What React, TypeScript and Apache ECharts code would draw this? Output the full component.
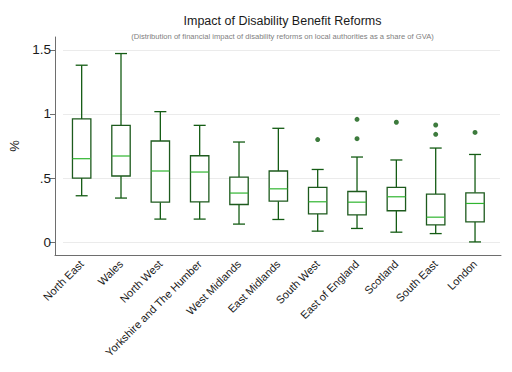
import React, { useEffect, useRef } from "react";
import * as echarts from "echarts";

const categories = [
  "North East",
  "Wales",
  "North West",
  "Yorkshire and The Humber",
  "West Midlands",
  "East Midlands",
  "South West",
  "East of England",
  "Scotland",
  "South East",
  "London",
];

// [lower whisker, Q1, median, Q3, upper whisker]
const boxStats = [
  [0.362, 0.5, 0.651, 0.961, 1.38],
  [0.344, 0.516, 0.672, 0.911, 1.471],
  [0.18, 0.312, 0.555, 0.789, 1.018],
  [0.18, 0.315, 0.547, 0.674, 0.911],
  [0.141, 0.294, 0.383, 0.508, 0.781],
  [0.177, 0.32, 0.416, 0.555, 0.888],
  [0.086, 0.221, 0.315, 0.427, 0.567],
  [0.107, 0.213, 0.312, 0.395, 0.664],
  [0.078, 0.245, 0.354, 0.427, 0.641],
  [0.067, 0.135, 0.195, 0.375, 0.734],
  [0.002, 0.159, 0.302, 0.385, 0.684],
];

// [category index, value]
const outliers = [
  [6, 0.8],
  [7, 0.958],
  [7, 0.807],
  [8, 0.935],
  [9, 0.914],
  [9, 0.841],
  [10, 0.856],
];

const yTicks = [0, 0.5, 1, 1.5];
const yTickLabels = ["0", ".5", "1", "1.5"];

const FONT = "Liberation Sans, Arial, sans-serif";
const BOX_COLOR = "#1d5a1d";
const WHISKER_COLOR = "#145c14";
const MEDIAN_COLOR = "#2fb52f";

export default function App() {
  const ref = useRef<HTMLDivElement>(null);

  useEffect(() => {
    if (!ref.current) return;
    const chart = echarts.init(ref.current, undefined, { renderer: "svg" });

    const boxData = boxStats.map((s, i) => [i, ...s]);

    const option: any = {
      animation: false,
      backgroundColor: "#ffffff",
      textStyle: { fontFamily: FONT },
      title: {
        text: "Impact of Disability Benefit Reforms",
        subtext:
          "(Distribution of financial impact of disability reforms on local authorities as a share of GVA)",
        left: 277.5,
        textAlign: "center",
        top: 9,
        itemGap: 5,
        textStyle: { fontFamily: FONT, fontSize: 12.5, fontWeight: "normal", color: "#1a1a1a" },
        subtextStyle: { fontFamily: FONT, fontSize: 7.6, color: "#808080" },
      },
      grid: [
        { left: 54, right: 11, top: 37, bottom: 117 },
        { left: 63, right: 12, top: 37, bottom: 117 },
        { left: 62, right: 17.3, top: 37, bottom: 117 },
      ],
      xAxis: [
        {
          gridIndex: 0,
          type: "value",
          min: 0,
          max: 1,
          axisLine: { show: true, onZero: false, lineStyle: { color: "#6e6e6e", width: 1 } },
          axisTick: { show: false },
          axisLabel: { show: false },
          splitLine: { show: false },
        },
        {
          gridIndex: 1,
          type: "value",
          min: 0,
          max: 1,
          show: false,
        },
        {
          gridIndex: 2,
          type: "category",
          data: categories,
          axisLine: { show: false },
          axisTick: { show: false },
          splitLine: { show: false },
          axisLabel: {
            interval: 0,
            rotate: 45,
            margin: 7,
            fontSize: 11,
            color: "#1a1a1a",
            fontFamily: FONT,
          },
        },
      ],
      yAxis: [
        {
          gridIndex: 0,
          type: "value",
          min: -0.1,
          max: 1.6,
          name: "%",
          nameLocation: "middle",
          nameRotate: 90,
          nameGap: 34,
          nameTextStyle: { fontSize: 13, color: "#1a1a1a", fontFamily: FONT },
          axisLine: { show: true, lineStyle: { color: "#6e6e6e", width: 1 } },
          axisTick: {
            show: true,
            inside: false,
            length: 5,
            customValues: yTicks,
            lineStyle: { color: "#6e6e6e" },
          },
          axisLabel: {
            show: true,
            margin: 4,
            fontSize: 13.5,
            color: "#1a1a1a",
            fontFamily: FONT,
            customValues: yTicks,
            formatter: (v: number) => {
              const idx = yTicks.findIndex((t) => Math.abs(t - v) < 1e-6);
              return idx >= 0 ? yTickLabels[idx] : "";
            },
          },
          splitLine: { show: false },
        },
        {
          gridIndex: 1,
          type: "value",
          min: -0.1,
          max: 1.6,
          axisLine: { show: false },
          axisTick: { show: false, customValues: yTicks },
          axisLabel: { show: false, customValues: yTicks },
          splitLine: { show: true, lineStyle: { color: "#ebebeb", width: 1 } },
        },
        {
          gridIndex: 2,
          type: "value",
          min: -0.1,
          max: 1.6,
          show: false,
          splitLine: { show: false },
        },
      ],
      series: [
        {
          type: "custom",
          xAxisIndex: 2,
          yAxisIndex: 2,
          data: boxData,
          encode: { x: 0, y: [1, 2, 3, 4, 5] },
          renderItem: (params: any, api: any) => {
            const idx = api.value(0);
            const lo = api.value(1);
            const q1 = api.value(2);
            const med = api.value(3);
            const q3 = api.value(4);
            const hi = api.value(5);
            const pLo = api.coord([idx, lo]);
            const pQ1 = api.coord([idx, q1]);
            const pMed = api.coord([idx, med]);
            const pQ3 = api.coord([idx, q3]);
            const pHi = api.coord([idx, hi]);
            const cx = pMed[0];
            const bw = 9.2;
            const cw = 6;
            const lw = 1.3;
            return {
              type: "group",
              children: [
                {
                  type: "line",
                  shape: { x1: cx, y1: pHi[1], x2: cx, y2: pQ3[1] },
                  style: { stroke: WHISKER_COLOR, lineWidth: lw },
                },
                {
                  type: "line",
                  shape: { x1: cx, y1: pQ1[1], x2: cx, y2: pLo[1] },
                  style: { stroke: WHISKER_COLOR, lineWidth: lw },
                },
                {
                  type: "line",
                  shape: { x1: cx - cw, y1: pHi[1], x2: cx + cw, y2: pHi[1] },
                  style: { stroke: WHISKER_COLOR, lineWidth: lw },
                },
                {
                  type: "line",
                  shape: { x1: cx - cw, y1: pLo[1], x2: cx + cw, y2: pLo[1] },
                  style: { stroke: WHISKER_COLOR, lineWidth: lw },
                },
                {
                  type: "rect",
                  shape: { x: cx - bw, y: pQ3[1], width: bw * 2, height: pQ1[1] - pQ3[1] },
                  style: { fill: "#ffffff", stroke: BOX_COLOR, lineWidth: lw },
                },
                {
                  type: "line",
                  shape: { x1: cx - bw, y1: pMed[1], x2: cx + bw, y2: pMed[1] },
                  style: { stroke: MEDIAN_COLOR, lineWidth: 1.2 },
                },
              ],
            };
          },
        },
        {
          type: "scatter",
          xAxisIndex: 2,
          yAxisIndex: 2,
          data: outliers,
          symbol: "circle",
          symbolSize: 5,
          itemStyle: { color: "#0d5a0d" },
        },
      ],
    };

    chart.setOption(option);
    return () => {
      chart.dispose();
    };
  }, []);

  return (
    <div
      ref={ref}
      style={{ position: "absolute", left: 0, top: 0, width: 512, height: 372 }}
    />
  );
}
